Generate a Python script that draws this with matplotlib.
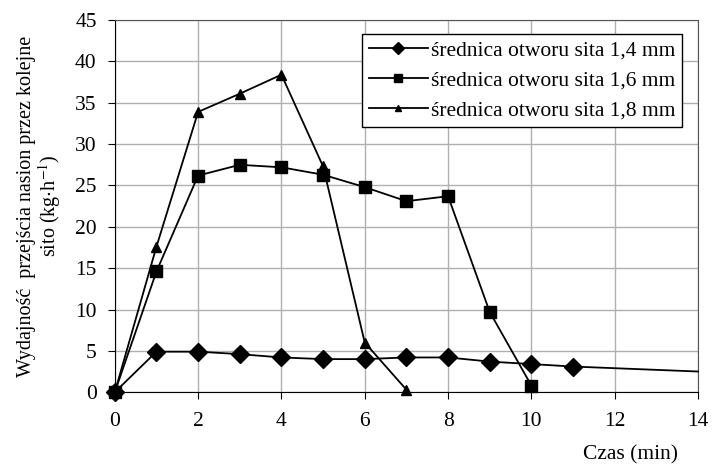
import matplotlib.pyplot as plt

plt.rcParams['font.family'] = ['Liberation Serif', 'DejaVu Serif']
plt.rcParams['mathtext.fontset'] = 'stix'

# data
czas_14 = [0, 1, 2, 3, 4, 5, 6, 7, 8, 9, 10, 11, 14]
sito_14 = [0, 4.9, 4.9, 4.6, 4.2, 4.0, 4.0, 4.2, 4.2, 3.7, 3.4, 3.1, 2.5]
czas_16 = [0, 1, 2, 3, 4, 5, 6, 7, 8, 9, 10]
sito_16 = [0, 14.6, 26.2, 27.5, 27.2, 26.3, 24.8, 23.1, 23.7, 9.7, 0.8]
czas_18 = [0, 1, 2, 3, 4, 5, 6, 7]
sito_18 = [0, 17.6, 33.9, 36.1, 38.4, 27.3, 6.0, 0.3]
labels = ["średnica otworu sita 1,4 mm",
          "średnica otworu sita 1,6 mm",
          "średnica otworu sita 1,8 mm"]

fs = 15.5

fig = plt.figure(figsize=(7.13, 4.68), dpi=100)
ax = fig.add_axes([0.161, 0.162, 0.818, 0.795])

ax.plot(czas_14, sito_14, color='black', lw=1.3, marker='D', ms=9,
        markevery=list(range(12)), label=labels[0], clip_on=False, zorder=3)
ax.plot(czas_16, sito_16, color='black', lw=1.3, marker='s', ms=8,
        label=labels[1], clip_on=False, zorder=3)
ax.plot(czas_18, sito_18, color='black', lw=1.3, marker='^', ms=6.5,
        label=labels[2], clip_on=False, zorder=3)

ax.set_xlim(0, 14)
ax.set_ylim(0, 45)
ax.set_xticks(range(0, 15, 2))
ax.set_yticks(range(0, 46, 5))
ax.grid(True, color='#b0b0b0', lw=1.0)
ax.set_axisbelow(True)
for s in ax.spines.values():
    s.set_color('#555555')
ax.spines['left'].set_color('black')
ax.spines['bottom'].set_color('black')
ax.tick_params(direction='out', length=5, labelsize=fs, color='black')
ax.tick_params(axis='x', pad=9)
ax.tick_params(axis='y', pad=8)

ax.set_ylabel("Wydajność  przejścia nasion przez kolejne\nsito (kg$\\cdot$h$^{-1}$)",
              fontsize=14.5, linespacing=1.0, labelpad=9)
fig.text(0.884, 0.028, "Czas (min)", fontsize=fs, ha='center', va='center')

leg = ax.legend(loc='upper right', bbox_to_anchor=(0.973, 0.962), fontsize=fs,
                frameon=True, fancybox=False, edgecolor='black', framealpha=1,
                markerscale=0.7, handlelength=2.75, handletextpad=0.15,
                labelspacing=0.45, borderpad=0.3, borderaxespad=0)
leg.get_frame().set_linewidth(1.0)

fig.savefig('out.png', dpi=100)
